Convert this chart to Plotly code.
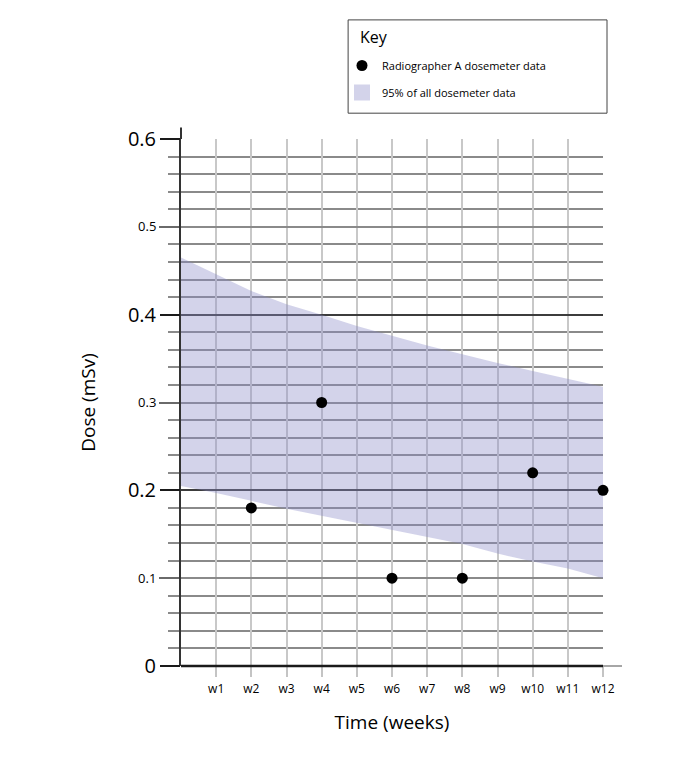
import plotly.graph_objects as go

# ---- data ----
weeks = [0, 1, 2, 3, 4, 5, 6, 7, 8, 9, 10, 11, 12]
band_lower = [0.205, 0.197, 0.188, 0.179, 0.171, 0.163, 0.155, 0.147, 0.139, 0.128, 0.119, 0.111, 0.100]
band_upper = [0.465, 0.446, 0.427, 0.412, 0.400, 0.387, 0.376, 0.365, 0.355, 0.345, 0.336, 0.327, 0.318]

point_weeks = [2, 4, 6, 8, 10, 12]
point_dose = [0.18, 0.30, 0.10, 0.10, 0.22, 0.20]

week_ticks = [1, 2, 3, 4, 5, 6, 7, 8, 9, 10, 11, 12]
week_labels = ["w1", "w2", "w3", "w4", "w5", "w6", "w7", "w8", "w9", "w10", "w11", "w12"]
major_y = [0, 0.2, 0.4, 0.6]
major_y_labels = ["0", "0.2", "0.4", "0.6"]
minor_y = [0.1, 0.3, 0.5]
minor_y_labels = ["0.1", "0.3", "0.5"]

FONT = "Open Sans"
BAND = "rgba(140,140,200,0.38)"

band_x = weeks + weeks[::-1]
band_y = band_upper + band_lower[::-1]

fig = go.Figure()

# anchor trace for the primary y axis (keeps the minor grid axis alive)
fig.add_trace(go.Scatter(x=[None], y=[None], mode="markers",
                         showlegend=False, hoverinfo="skip", yaxis="y"))

fig.add_trace(go.Scatter(
    x=band_x, y=band_y, mode="lines", line=dict(width=0),
    fill="toself", fillcolor=BAND, showlegend=False,
    hoverinfo="skip", yaxis="y2"))
fig.add_trace(go.Scatter(
    x=point_weeks, y=point_dose, mode="markers",
    marker=dict(color="black", size=11),
    name="Radiographer A dosemeter data", legendrank=1, legendgroup="a",
    cliponaxis=False, yaxis="y2"))
# legend swatch for the band
fig.add_trace(go.Scatter(
    x=[None], y=[None], mode="markers",
    marker=dict(symbol="square", color="rgb(211,211,234)", size=18),
    name="95% of all dosemeter data", legendrank=2, legendgroup="b",
    yaxis="y2"))

fig.update_layout(
    width=685, height=769,
    margin=dict(l=173, r=90, t=131, b=111),
    paper_bgcolor="white", plot_bgcolor="white",
    font=dict(family=FONT, color="black"),
    xaxis=dict(
        range=[0, 12],
        tickmode="array", tickvals=week_ticks, ticktext=week_labels,
        tickfont=dict(size=12),
        ticks="outside", ticklen=10, tickwidth=2, tickcolor="#c4c4c4",
        ticklabelstandoff=2,
        showgrid=True, gridcolor="#c8c8c8", gridwidth=2,
        zeroline=False, showline=False,
        title=dict(text="Time (weeks)", font=dict(size=19), standoff=19),
    ),
    yaxis=dict(
        range=[0, 0.6],
        tickmode="array", tickvals=minor_y, ticktext=minor_y_labels,
        tickfont=dict(size=13),
        ticks="outside", ticklen=20, tickwidth=2, tickcolor="#6a6a6a",
        showgrid=True, gridcolor="#8a8a8a", gridwidth=2,
        minor=dict(dtick=0.02, tick0=0, ticks="outside", ticklen=11,
                   tickwidth=2, tickcolor="#8a8a8a",
                   showgrid=True, gridcolor="#8a8a8a", gridwidth=2),
        zeroline=False,
        showline=True, linecolor="#333333", linewidth=2,
        title=dict(text="Dose (mSv)", font=dict(size=19), standoff=37),
    ),
    yaxis2=dict(
        range=[0, 0.6], overlaying="y", side="left",
        tickmode="array", tickvals=major_y, ticktext=major_y_labels,
        tickfont=dict(size=20),
        ticks="outside", ticklen=20, tickwidth=2, tickcolor="#1a1a1a",
        showgrid=True, gridcolor="#3c3c3c", gridwidth=2,
        zeroline=False, showline=False,
    ),
    legend=dict(
        x=0.3815, y=1.167, xanchor="left", yanchor="top",
        font=dict(size=11),
        borderwidth=0, bgcolor="rgba(0,0,0,0)",
        traceorder="grouped", tracegroupgap=8,
        itemwidth=30,
    ),
    annotations=[
        dict(text="Key", xref="paper", yref="paper", x=0.419, y=1.194,
             xanchor="left", yanchor="middle", showarrow=False,
             font=dict(size=16)),
    ],
    shapes=[
        dict(type="rect", xref="paper", yref="paper",
             x0=0.396, x1=1.0095, y0=1.049, y1=1.226,
             line=dict(color="#444444", width=1), fillcolor="white", layer="below"),
        dict(type="line", xref="paper", yref="paper", x0=0, x1=0, y0=1, y1=1.022,
             line=dict(color="#333333", width=2)),
        dict(type="line", xref="paper", yref="paper", x0=1, x1=1.045, y0=0, y1=0,
             line=dict(color="#888888", width=1.5)),
        dict(type="line", xref="paper", yref="paper", x0=0, x1=1, y0=0, y1=0,
             line=dict(color="#1a1a1a", width=2.5)),
    ],
)

fig.write_html("out.html")
